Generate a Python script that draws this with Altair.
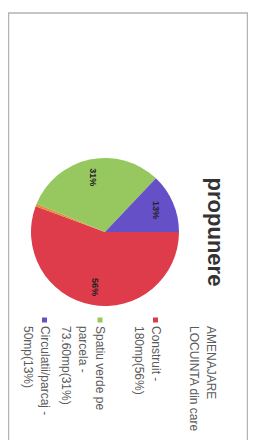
import math
import altair as alt
import pandas as pd

# ---- data ----
slice_names = ["Construit", "AMENAJARE LOCUINTA din care", "Spatiu verde pe parcela", "Circulatii/parcaj"]
slice_values = [56, 0.6, 31, 13]
slice_labels = ["56%", "", "31%", "13%"]
slice_colors = ["#DE3B4B", "#E0903A", "#96C85F", "#6650C8"]

title_text = ["propunere"]

legend_lines = [
    ["AMENAJARE", "LOCUINTA din care"],
    ["Construit -", "180mp(56%)"],
    ["Spatiu verde pe", "parcela -", "73.60mp(31%)"],
    ["Circulatii/parcaj -", "50mp(13%)"],
]
legend_marker_colors = ["", "#DE3B4B", "#96C85F", "#6650C8"]

# ---- layout constants (pixels in plot area) ----
W, H = 240, 432
CX, CY, R = 97, 224, 74
X0, ENTRY_STEP, LINE_STEP = 203, 55.5, 17
TEXT_Y, MARK_Y = 318, 312
FONT = "Liberation Sans"

pie_df = pd.DataFrame({
    "cat": slice_names,
    "value": slice_values,
    "label": slice_labels,
    "idx": list(range(len(slice_names))),
})

rows = []
marks = []
for k, lines in enumerate(legend_lines):
    for j, line in enumerate(lines):
        rows.append({"line": line, "px": X0 - k * ENTRY_STEP - j * LINE_STEP})
    if legend_marker_colors[k]:
        marks.append({"px": X0 - k * ENTRY_STEP, "col": legend_marker_colors[k]})
legend_df = pd.DataFrame(rows)
marker_df = pd.DataFrame(marks)

theta_scale = alt.Scale(range=[math.pi / 2, math.pi / 2 + 2 * math.pi])

border = alt.Chart(pd.DataFrame({"a": [0]})).mark_rect(
    filled=False, stroke="#B4B4B4", strokeWidth=1.5
).encode(x=alt.value(0.5), x2=alt.value(W - 0.5), y=alt.value(5), y2=alt.value(H + 10))

pie = alt.Chart(pie_df).mark_arc(radius=R).encode(
    theta=alt.Theta("value:Q", stack=True, scale=theta_scale),
    color=alt.Color("cat:N", scale=alt.Scale(domain=slice_names, range=slice_colors), legend=None),
    order=alt.Order("idx:Q"),
    x=alt.value(CX),
    y=alt.value(CY),
)

pie_labels = alt.Chart(pie_df).mark_text(
    radius=56, angle=90, fontSize=9, fontWeight="bold", color="#222222", font=FONT,
    align="center", baseline="middle"
).encode(
    theta=alt.Theta("value:Q", stack=True, scale=theta_scale),
    detail="cat:N",
    order=alt.Order("idx:Q"),
    text="label:N",
    x=alt.value(CX),
    y=alt.value(CY),
)

title = alt.Chart(pd.DataFrame({"t": title_text})).mark_text(
    angle=90, fontSize=22, fontWeight="bold", color="#333333", font=FONT,
    align="center", baseline="middle"
).encode(text="t:N", x=alt.value(207), y=alt.value(CY))

legend_text = alt.Chart(legend_df).mark_text(
    angle=90, fontSize=12, color="#5A5A5A", font=FONT, align="left", baseline="middle"
).encode(
    x=alt.X("px:Q", scale=None),
    y=alt.value(TEXT_Y),
    text="line:N",
)

legend_marks = alt.Chart(marker_df).mark_square(size=25, opacity=1).encode(
    x=alt.X("px:Q", scale=None),
    y=alt.value(MARK_Y),
    color=alt.Color("col:N", scale=None),
)

chart = alt.layer(border, pie, pie_labels, title, legend_text, legend_marks).properties(
    width=W, height=H, padding=0, autosize=alt.AutoSizeParams(type="none"), background="white"
).configure_view(stroke=None)

chart.save("out.html", embed_options={"renderer": "svg", "actions": False})
